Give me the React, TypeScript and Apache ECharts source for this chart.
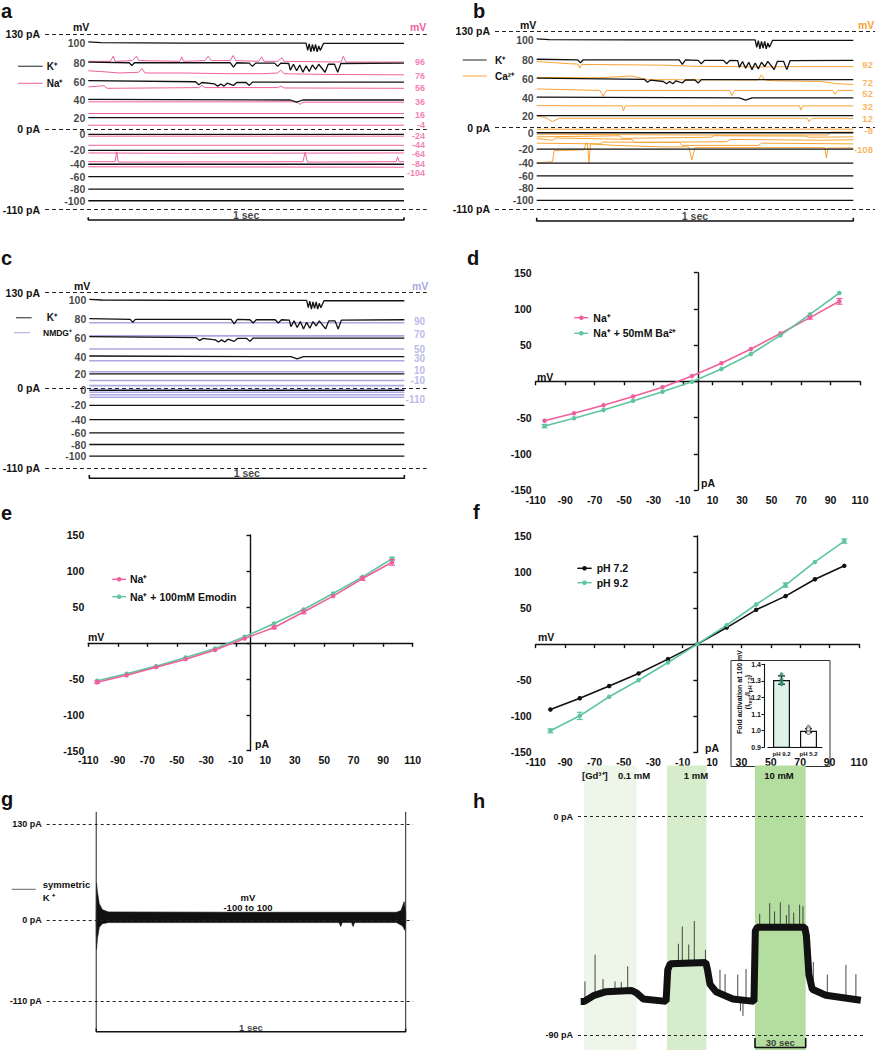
import React, { useEffect, useRef } from "react";
import * as echarts from "echarts";

const FONT = "'Liberation Sans', Arial, Helvetica, sans-serif";
const PINK = "#ef5f9d";
const ORANGE = "#f7a334";
const LAVENDER = "#aba8e2";
const TEAL = "#5fc59d";
const INK = "#111111";

// ---------------- panels a–c : single-channel traces ----------------
const dashLevels = [130, 0, -110];
const scaleBarSec = [0, 1];
const kVoltages = [100, 80, 60, 40, 20, 0, -20, -40, -60, -80, -100];
const kLevelsAB = [118, 91, 65, 40, 16, -7, -29, -48, -65, -82, -98];
const kLevelsC = [119.5, 93.5, 68.5, 42.5, 19, -3.5, -24, -43.5, -61.5, -77.5, -93.5];
// gating events: [time (s), deviation from open level (pA)]
const kGating100 = [[0, 1.5], [0.04, 0.5], [0.3, 0], [0.69, 0], [0.695, -10], [0.7, -1], [0.705, -12], [0.71, -2], [0.715, -11], [0.72, -2], [0.725, -12], [0.73, -4], [0.735, -10], [0.745, -0.5], [1, -0.5]];
const kGating80 = [[0, 1], [0.13, 0], [0.138, -4], [0.146, 0], [0.45, 0], [0.46, -6], [0.47, 0], [0.51, -0.5], [0.52, -5], [0.53, -0.5], [0.59, -0.5], [0.6, -5], [0.61, -0.5], [0.635, -1], [0.64, -10], [0.65, -2], [0.66, -11], [0.67, -3], [0.68, -13], [0.69, -4], [0.7, -12], [0.71, -3], [0.72, -9], [0.73, -2], [0.75, -13], [0.76, -2], [0.78, -2], [0.79, -13], [0.8, -1], [1, -0.5]];
const kGating60 = [[0, 1.5], [0.34, 0], [0.35, -4], [0.36, -1], [0.4, -3], [0.41, -6], [0.42, -3], [0.43, -6], [0.44, -2], [0.46, -5], [0.47, -1], [0.5, -1], [0.51, -5], [0.52, -0.5], [1, -0.5]];
const kGating40 = [[0, 1], [0.64, 0], [0.66, -3], [0.68, 0], [1, 0]];
const kGatingByVoltage: Record<number, number[][]> = { 100: kGating100, 80: kGating80, 60: kGating60, 40: kGating40 };
const flatDeviation = [[0, 0], [1, 0]];

const naVoltages = [96, 76, 56, 36, 16, -4, -24, -44, -64, -84, -104];
const naTraces = [
  [[0, 93], [0.07, 93], [0.079, 100], [0.085, 93], [0.14, 94], [0.153, 100], [0.16, 94], [0.29, 93], [0.296, 99], [0.302, 93], [0.37, 94], [0.38, 100], [0.39, 94], [0.45, 94], [0.459, 101], [0.467, 94], [0.54, 93], [0.549, 99], [0.556, 93], [0.6, 93], [0.613, 98], [0.62, 93], [0.8, 92], [0.808, 100], [0.816, 92], [1, 92]],
  [[0, 80], [0.04, 79], [0.1, 77], [0.16, 78], [0.17, 83], [0.18, 77], [0.3, 77], [0.45, 76], [0.55, 76], [0.6, 77], [0.61, 81], [0.62, 76], [0.75, 75], [1, 74.5]],
  [[0, 58], [0.05, 59.5], [0.06, 56], [0.35, 57], [0.36, 60], [0.37, 57], [0.6, 57], [0.61, 59], [0.62, 56.5], [1, 56]],
  [[0, 37.5], [0.66, 37.5], [0.67, 34], [0.68, 37], [1, 37]],
  [[0, 21.5], [1, 21.5]],
  [[0, 5.5], [1, 5.5]],
  [[0, -9.5], [1, -9.5]],
  [[0, -22], [1, -22]],
  [[0, -32.5], [0.3, -33], [1, -32.5]],
  [[0, -44.5], [0.085, -44.5], [0.09, -31], [0.095, -45], [0.68, -44.5], [0.687, -31.5], [0.694, -45], [0.975, -44.5], [0.98, -38], [0.985, -44.5], [1, -44.5]],
  [[0, -51.5], [1, -52]],
];
const naLabelDy = [0, 1, 0, 0, 1, 0, 0, 0, 1.5, 2, 6];

const caVoltages = [92, 72, 52, 32, 12, -8, -28, -48, -68, -88, -108];
const caTraces = [
  [[0, 89], [0.1, 86], [0.13, 85.5], [0.136, 80], [0.142, 85], [0.4, 84], [0.5, 82.5], [0.65, 82], [0.7, 81.5], [0.8, 82], [1, 82]],
  [[0, 67.5], [0.2, 67], [0.3, 69.5], [0.35, 64.5], [0.7, 64], [0.71, 71], [0.72, 64], [0.75, 63], [0.9, 62], [0.95, 59], [1, 58]],
  [[0, 52], [0.2, 50], [0.21, 42], [0.22, 50], [0.61, 50], [0.616, 43], [0.625, 50], [0.935, 50], [0.942, 45], [0.95, 50], [1, 50]],
  [[0, 29.5], [0.27, 29.2], [0.274, 22.5], [0.28, 29.2], [0.83, 29.2], [0.834, 23.5], [0.84, 29.2], [1, 29.2]],
  [[0, 16], [0.03, 13], [0.05, 8], [0.07, 12.5], [0.855, 12.5], [0.86, 8], [0.87, 12.5], [1, 12.5]],
  [[0, -2.2], [1, -2.2]],
  [[0, -9], [0.5, -10], [0.92, -10], [0.93, -6], [1, -6]],
  [[0, -12.5], [0.1, -12], [0.26, -11], [0.27, -14.5], [0.55, -13], [0.56, -11], [0.85, -11.5], [0.86, -13], [1, -12.5]],
  [[0, -15], [0.05, -17], [0.06, -14], [0.3, -16], [0.31, -20], [0.6, -19], [0.61, -16], [0.9, -17], [1, -16.5]],
  [[0, -21], [0.2, -22], [0.21, -19.5], [0.45, -20], [0.46, -24], [0.7, -24], [0.71, -21], [1, -22]],
  [[0, -47.5], [0.05, -46], [0.055, -31], [0.15, -30], [0.155, -21], [0.16, -21], [0.165, -47], [0.17, -22], [0.25, -24], [0.4, -26], [0.48, -26], [0.49, -43.5], [0.5, -27], [0.91, -27], [0.915, -41], [0.92, -27.5], [1, -27.4]],
];
const caLabelShown = [true, true, true, true, true, true, false, false, false, false, true];
const caLabelDy = [-2, -2, 3, 1, 0.5, 1, 0, 0, 0, 0, 2];

const nmdgVoltages = [90, 70, 50, 30, 10, -10, -30, -50, -70, -90, -110];
const nmdgLevels = [89, 71, 53, 37, 22, 10, 3, -2.5, -6, -9.5, -13];
const nmdgLabelShown = [true, true, true, true, true, true, false, false, false, false, true];
const nmdgLabelDy = [-1, -1, 0, -2, -1, 0, 0, 0, 0, 0, 2];

// ---------------- panels d–f : I–V curves ----------------
const ivVoltagesDE = [-104, -84, -64, -44, -24, -4, 16, 36, 56, 76, 96];
const dNa = [-54.4, -44, -33, -21, -8, 7.3, 25, 44.6, 66, 88, 110.5];
const dBa = [-61.7, -51, -39.6, -27, -14.3, -0.5, 17, 37.7, 63.5, 92.5, 122];
const dNaErr = [[96, 106.5, 114.5], [76, 86, 90]];
const dBaErr = [[-104, -64, -59.5]];
const eNa = [-54.7, -45, -33.8, -22.7, -10, 6, 21.4, 43, 65, 89.5, 112];
const eEmodin = [-52.8, -43, -32.4, -20.4, -7.8, 8.4, 27, 46.4, 68.7, 91.8, 117];
const eNaErr = [[96, 108, 116], [76, 87, 92], [36, 40.5, 45.5], [16, 19.5, 23.5], [-104, -56.5, -53]];
const eEmodinErr = [[96, 115, 119]];
const ivVoltagesF = [-100, -80, -60, -40, -20, 0, 20, 40, 60, 80, 100];
const fPH72 = [-90.6, -75, -58, -40.6, -20.8, 0, 23, 47.6, 66.6, 90, 108.6];
const fPH92 = [-120, -99.4, -73, -50, -25.4, 0, 26.4, 55, 82, 114, 143];
const fPH92Err = [[-100, -123, -117.5], [-80, -104.5, -94.5], [60, 79, 85], [100, 140, 146]];
const insetCats = ["pH 9.2", "pH 5.2"];
const insetMeans = [1.305, 1.0];
const insetSem = [0.025, 0.012];
const insetPoints92 = [1.34, 1.31, 1.29, 1.28];
const insetPoints52 = [1.02, 1.0, 0.99, 1.01];

// ---------------- panel g ----------------
const gDashLevels = [130, 0, -110];
const gUpper = [[0, 5], [0.001, 50], [0.004, 38], [0.01, 22], [0.02, 14], [0.04, 11], [0.5, 10.5], [0.97, 10.5], [0.985, 13], [0.995, 25], [1, 10]];
const gLower = [[0, -1], [0.001, -40], [0.004, -25], [0.01, -10], [0.02, -5], [0.04, -3.5], [0.5, -3.5], [0.785, -3.5], [0.79, -9], [0.795, -3.5], [0.825, -3.5], [0.83, -9], [0.835, -3.5], [0.97, -3.5], [0.99, -8], [0.997, -14], [1, -3]];
const gTransients = [[0, 147, -147], [1, 147, -147]];

// ---------------- panel h ----------------
const hDashLevels = [0, -90];
const hApplications = [
  { label: "0.1 mM", from: 2, to: 33.1, color: "#eef6e9" },
  { label: "1 mM", from: 51.1, to: 74.4, color: "#d6ecca" },
  { label: "10 mM", from: 103.1, to: 133.1, color: "#b4dea0" },
];
const hCurrent = [[0, -76], [2, -76], [8, -73.5], [15, -72], [30, -71.5], [33, -72.5], [37, -75], [50.5, -76], [51.5, -63], [53, -60.5], [74, -60], [75, -63], [76.5, -69], [80, -72], [90, -75], [102.5, -76], [103.3, -47], [104.5, -45.5], [132.5, -45.5], [133.5, -49], [135, -65], [137, -71], [145, -73.5], [165.7, -75.5]];
const hSpikes = [
  [2.5, -75, -67.8], [8.5, -73.5, -56.8], [13.2, -72.5, -66.8], [20.3, -72, -67.8], [24, -72, -68], [27.8, -71.5, -61.6],
  [57.8, -60, -52.3], [60.1, -60, -45.2], [63.9, -60, -52.6], [67.2, -60, -42.9], [73.8, -60, -54.8],
  [82.4, -73, -63], [85.4, -73.5, -64.8], [92.9, -75, -65], [96, -75, -82], [97.8, -75, -62.7], [94.5, -75, -80],
  [105.9, -45.5, -40], [111.8, -45.5, -35.6], [114.7, -45.5, -39], [118.1, -45.5, -35.3], [121.7, -45.5, -40.5], [123.2, -45.5, -36.2], [126, -45.5, -39.5], [129.5, -45.5, -36.2], [131.5, -45.5, -36.9],
  [137.6, -71, -59.8], [145.9, -73.5, -65], [156.9, -74, -61], [162.8, -75, -64.8],
];
const hScaleBarSec = [103.1, 133.1];

// ---------------- helpers ----------------
const lbl = (size = 10.5, color = INK) => ({ fontSize: size, fontWeight: "bold" as const, color, fontFamily: FONT });

function traceLine(idx: number, data: number[][], color: string, width = 1, z = 3) {
  return {
    type: "line", xAxisIndex: idx, yAxisIndex: idx, data, showSymbol: false, symbol: "none",
    silent: true, lineStyle: { color, width }, z, animation: false,
  };
}
function shift(dev: number[][], level: number) {
  return dev.map(([t, d]) => [t, level + d]);
}
function labelSeries(idx: number, items: { x: number; y: number; text: string; dy?: number }[], position: string, color: string, size = 10.5, distance = 4) {
  return {
    type: "scatter", xAxisIndex: idx, yAxisIndex: idx, symbolSize: 0, silent: true, z: 6,
    itemStyle: { color: "transparent" },
    data: items.map((it) => ({ value: [it.x, it.y], label: { formatter: it.text, offset: [0, it.dy || 0] } })),
    label: { show: true, position, distance, lineHeight: size, ...lbl(size, color) },
  };
}
function scaleBar(idx: number, range: number[], lineY: number, tickY: number, textY: number, text: string, size = 10.5) {
  return [
    traceLine(idx, [[range[0], tickY], [range[0], lineY], [range[1], lineY], [range[1], tickY]], INK, 1.6, 5),
    labelSeries(idx, [{ x: (range[0] + range[1]) / 2, y: textY, text }], "inside", INK, size),
  ];
}
function dashSeries(idx: number, levels: number[], size = 10.5, dash = [4, 3]) {
  return {
    type: "line", xAxisIndex: idx, yAxisIndex: idx, data: [], silent: true, symbol: "none",
    markLine: {
      symbol: ["none", "none"], silent: true, animation: false,
      lineStyle: { type: dash, color: "#222", width: 1 },
      label: { position: "start", distance: 5, formatter: (p: any) => `${p.value} pA`, ...lbl(size) },
      data: levels.map((v) => ({ yAxis: v })),
    },
  };
}
function errorBars(idx: number, data: number[][], color: string, cap = 3) {
  return {
    type: "custom", xAxisIndex: idx, yAxisIndex: idx, silent: true, z: 4, data,
    encode: { x: 0, y: [1, 2] },
    renderItem: (_p: any, api: any) => {
      const x = api.value(0);
      const lo = api.coord([x, api.value(1)]);
      const hi = api.coord([x, api.value(2)]);
      const st = { stroke: color, lineWidth: 1.2 };
      return {
        type: "group",
        children: [
          { type: "line", shape: { x1: lo[0], y1: lo[1], x2: hi[0], y2: hi[1] }, style: st },
          { type: "line", shape: { x1: lo[0] - cap, y1: lo[1], x2: lo[0] + cap, y2: lo[1] }, style: st },
          { type: "line", shape: { x1: hi[0] - cap, y1: hi[1], x2: hi[0] + cap, y2: hi[1] }, style: st },
        ],
      };
    },
  };
}
function ivSeries(idx: number, xs: number[], ys: number[], color: string) {
  return {
    type: "line", xAxisIndex: idx, yAxisIndex: idx, silent: true, z: 3,
    data: xs.map((x, i) => [x, ys[i]]), symbol: "circle", symbolSize: 4.5, showSymbol: true,
    lineStyle: { color, width: 1.6 }, itemStyle: { color },
  };
}
function txt(x: number, y: number, text: string, o: any = {}) {
  return {
    type: "text", x, y, silent: true, z: 50, rotation: o.rotation || 0,
    style: {
      text, fill: o.color || INK, fontSize: o.size || 10.5, fontWeight: o.weight || "bold",
      fontFamily: FONT, align: o.align || "left", verticalAlign: o.va || "middle", rich: o.rich,
    },
  };
}
function legendItem(x1: number, x2: number, y: number, color: string, text: string, textX: number, dot: boolean, width = 1.4, size = 10.5) {
  const els: any[] = [{ type: "line", silent: true, z: 50, shape: { x1, y1: y, x2, y2: y }, style: { stroke: color, lineWidth: width } }];
  if (dot) els.push({ type: "circle", silent: true, z: 51, shape: { cx: (x1 + x2) / 2, cy: y, r: 2.3 }, style: { fill: color } });
  els.push(txt(textX, y, text, { size }));
  return els;
}

// ---------------- option ----------------
function buildOption() {
  const grids: any[] = [];
  const xAxes: any[] = [];
  const yAxes: any[] = [];
  const series: any[] = [];
  const hidden = { show: false };

  const traceGrid = (left: number, top: number, width: number, height: number, xmin: number, xmax: number, ymin: number, ymax: number) => {
    const i = grids.length;
    grids.push({ left, top, width, height });
    xAxes.push({ gridIndex: i, type: "value", min: xmin, max: xmax, ...hidden });
    yAxes.push({ gridIndex: i, type: "value", min: ymin, max: ymax, ...hidden });
    return i;
  };
  const ivAxisStyle = {
    axisLine: { onZero: true, lineStyle: { color: INK, width: 1.4 } },
    axisTick: { show: true, length: 4, lineStyle: { color: INK, width: 1.4 } },
    splitLine: { show: false },
  };
  const ivGrid = (left: number, top: number, width: number, height: number) => {
    const i = grids.length;
    grids.push({ left, top, width, height });
    xAxes.push({ gridIndex: i, type: "value", min: -110, max: 110, interval: 20, ...ivAxisStyle, axisLabel: { ...lbl(10.5), margin: 4 } });
    yAxes.push({
      gridIndex: i, type: "value", min: -150, max: 150, interval: 50, ...ivAxisStyle,
      axisLabel: { ...lbl(10.5), margin: 4, formatter: (v: number) => (v === 0 ? "" : String(v)) },
    });
    return i;
  };

  // right-hand voltage labels are right-aligned at these time positions (layout)
  const rightEdgeA = 1.0665;
  const rightEdgeB = 1.062;
  const rightEdgeC = 1.0657;

  // ----- a -----
  const A = traceGrid(45, 34.3, 381.7, 186.9, -0.137, 1.072, -126, 130);
  series.push(dashSeries(A, dashLevels));
  naVoltages.forEach((v, i) => series.push(traceLine(A, naTraces[i], PINK, 1, 3)));
  kVoltages.forEach((v, i) => series.push(traceLine(A, shift(kGatingByVoltage[v] ?? flatDeviation, kLevelsAB[i]), INK, 1.3, 4)));
  series.push(labelSeries(A, kVoltages.map((v, i) => ({ x: 0, y: kLevelsAB[i], text: String(v) })), "left", INK, 10.5, 3));
  series.push(labelSeries(A, naVoltages.map((v, i) => ({ x: rightEdgeA, y: naTraces[i][naTraces[i].length - 1][1], text: String(v), dy: naLabelDy[i] })), "left", PINK, 9, 0));
  series.push(...scaleBar(A, scaleBarSec, -124.3, -120.6, -117.5, "1 sec"));

  // ----- b -----
  const B = traceGrid(495, 31, 380, 190.9, -0.1317, 1.0685, -127, 130);
  series.push(dashSeries(B, dashLevels));
  caVoltages.forEach((v, i) => series.push(traceLine(B, caTraces[i], ORANGE, 1, 3)));
  kVoltages.forEach((v, i) => series.push(traceLine(B, shift(kGatingByVoltage[v] ?? flatDeviation, kLevelsAB[i]), INK, 1.3, 4)));
  series.push(labelSeries(B, kVoltages.map((v, i) => ({ x: 0, y: kLevelsAB[i], text: String(v) })), "left", INK, 10.5, 3));
  series.push(labelSeries(B, caVoltages.map((v, i) => ({ v, i })).filter(({ i }) => caLabelShown[i]).map(({ v, i }) => ({ x: rightEdgeB, y: caTraces[i][caTraces[i].length - 1][1], text: String(v), dy: caLabelDy[i] })), "left", ORANGE, 9.5, 0));
  series.push(...scaleBar(B, scaleBarSec, -125.8, -121.3, -119, "1 sec"));

  // ----- c -----
  const C = traceGrid(45, 292.7, 381.7, 187.3, -0.1406, 1.071, -126, 130);
  series.push(dashSeries(C, dashLevels));
  nmdgVoltages.forEach((v, i) => series.push(traceLine(C, flatDeviation.map(([t]) => [t, nmdgLevels[i]]), LAVENDER, 1.6, 3)));
  kVoltages.forEach((v, i) => series.push(traceLine(C, shift(kGatingByVoltage[v] ?? flatDeviation, kLevelsC[i]), INK, 1.3, 4)));
  series.push(labelSeries(C, kVoltages.map((v, i) => ({ x: 0, y: kLevelsC[i], text: String(v) })), "left", INK, 10.5, 3));
  series.push(labelSeries(C, nmdgVoltages.map((v, i) => ({ v, i })).filter(({ i }) => nmdgLabelShown[i]).map(({ v, i }) => ({ x: rightEdgeC, y: nmdgLevels[i], text: String(v), dy: nmdgLabelDy[i] })), "left", LAVENDER, 10, 0));
  series.push(...scaleBar(C, scaleBarSec, -123.6, -119.2, -117, "1 sec"));

  // ----- d -----
  const D = ivGrid(535.7, 272.7, 324.3, 217.3);
  series.push(ivSeries(D, ivVoltagesDE, dNa, PINK), ivSeries(D, ivVoltagesDE, dBa, TEAL));
  series.push(errorBars(D, dNaErr, PINK), errorBars(D, dBaErr, TEAL));

  // ----- e -----
  const E = ivGrid(88.3, 535, 324.4, 215.7);
  series.push(ivSeries(E, ivVoltagesDE, eEmodin, TEAL), ivSeries(E, ivVoltagesDE, eNa, PINK));
  series.push(errorBars(E, eEmodinErr, TEAL), errorBars(E, eNaErr, PINK));

  // ----- f -----
  const F = ivGrid(535.7, 536, 323.3, 216.3);
  series.push(ivSeries(F, ivVoltagesF, fPH72, INK), ivSeries(F, ivVoltagesF, fPH92, TEAL));
  series.push(errorBars(F, fPH92Err, TEAL));

  // ----- f inset -----
  const I = grids.length;
  grids.push({ left: 768, top: 664.3, width: 54, height: 83 });
  xAxes.push({
    gridIndex: I, type: "category", data: insetCats,
    axisLine: { lineStyle: { color: INK, width: 1.1 } }, axisTick: { show: false },
    axisLabel: { ...lbl(6), margin: 4, interval: 0 },
  });
  yAxes.push({
    gridIndex: I, type: "value", min: 0.9, max: 1.4, interval: 0.1, offset: 4,
    axisLine: { show: true, lineStyle: { color: INK, width: 1.1 } },
    axisTick: { show: true, length: 2.5, lineStyle: { color: INK } },
    axisLabel: { ...lbl(7), margin: 3, formatter: (v: number) => v.toFixed(1) },
    splitLine: { show: false },
  });
  series.push({
    type: "bar", xAxisIndex: I, yAxisIndex: I, barWidth: 17, silent: true, z: 3,
    data: insetMeans.map((m, i) => ({ value: m, itemStyle: { color: i === 0 ? "#dff2e8" : "#ffffff", borderColor: INK, borderWidth: 1.2 } })),
  });
  series.push(errorBars(I, insetMeans.map((m, i) => [i, m - insetSem[i], m + insetSem[i]]), INK, 3.5));
  series.push({
    type: "scatter", xAxisIndex: I, yAxisIndex: I, silent: true, z: 5, symbolSize: 4,
    data: insetPoints92.map((v) => [0, v]), itemStyle: { color: "#2f8f6c" },
  });
  series.push({
    type: "scatter", xAxisIndex: I, yAxisIndex: I, silent: true, z: 5, symbolSize: 4,
    data: insetPoints52.map((v) => [1, v]), itemStyle: { color: "#ffffff", borderColor: "#333", borderWidth: 1 },
  });

  // ----- g -----
  const G = traceGrid(46.7, 809.6, 366.3, 223, -0.16, 1.0236, -153, 150);
  series.push(dashSeries(G, gDashLevels, 9, [3, 3]));
  series.push({
    type: "custom", xAxisIndex: G, yAxisIndex: G, silent: true, z: 3, data: [[0, 0]],
    renderItem: (_p: any, api: any) => {
      const pts = [...gUpper.map((p) => api.coord(p)), ...gLower.slice().reverse().map((p) => api.coord(p))];
      return { type: "polygon", shape: { points: pts }, style: { fill: INK, stroke: INK, lineWidth: 0.6 } };
    },
  });
  gTransients.forEach(([t, hi, lo]) => series.push(traceLine(G, [[t, hi], [t, lo]], "#222", 1, 4)));
  series.push(...scaleBar(G, scaleBarSec, -151.8, -147, -145.7, "1 sec", 9.5));

  // ----- h -----
  const H = traceGrid(578, 765.6, 285, 284.4, -1.6, 167, -96, 21);
  series.push({
    ...dashSeries(H, hDashLevels, 9, [3, 3]),
    markArea: {
      silent: true,
      data: hApplications.map((a) => [{ xAxis: a.from, itemStyle: { color: a.color } }, { xAxis: a.to }]),
    },
  });
  series.push(traceLine(H, hCurrent, INK, 7, 4));
  series.push({
    type: "custom", xAxisIndex: H, yAxisIndex: H, silent: true, z: 3, data: hSpikes,
    renderItem: (_p: any, api: any) => {
      const a = api.coord([api.value(0), api.value(1)]);
      const b = api.coord([api.value(0), api.value(2)]);
      return { type: "line", shape: { x1: a[0], y1: a[1], x2: b[0], y2: b[1] }, style: { stroke: "#333", lineWidth: 0.9 } };
    },
  });
  series.push(...scaleBar(H, hScaleBarSec, -95, -91.1, -92.8, "30 sec", 9.5));

  // ----- graphic annotations -----
  const panelLetter = (x: number, y: number, s: string) => txt(x, y, s, { size: 20, va: "middle" });
  const elements: any[] = [
    panelLetter(1, 11, "a"), panelLetter(473, 11, "b"), panelLetter(1, 258, "c"), panelLetter(467, 258, "d"),
    panelLetter(1, 513, "e"), panelLetter(473, 512, "f"), panelLetter(1, 799, "g"), panelLetter(473, 801, "h"),
    // a
    txt(73, 27, "mV"), txt(410, 27, "mV", { color: PINK }),
    ...legendItem(18, 42.7, 66.3, "#555", "K⁺", 46.7, false, 1.3, 10),
    ...legendItem(18, 42.7, 83.3, PINK, "Na⁺", 46.7, false, 1, 10),
    // b
    txt(520, 25, "mV"), txt(858, 25, "mV", { color: ORANGE }),
    ...legendItem(462.7, 486.7, 60, "#555", "K⁺", 495, false, 1.3, 10),
    ...legendItem(462.7, 486.7, 76, ORANGE, "Ca²⁺", 495, false, 1, 10),
    // c
    txt(74, 285.7, "mV"), txt(412, 285.7, "mV", { color: LAVENDER }),
    ...legendItem(16, 31.7, 317.7, "#555", "K⁺", 46.7, false, 1.3, 10),
    ...legendItem(14, 30, 332.7, LAVENDER, "NMDG⁺", 43, false, 1, 8.5),
    // d
    txt(537, 377, "mV"), txt(701, 483.3, "pA"),
    ...legendItem(574.3, 588.3, 317.7, PINK, "Na⁺", 593.3, true),
    ...legendItem(574.3, 588.3, 333.3, TEAL, "Na⁺ + 50mM Ba²⁺", 593.3, true),
    // e
    txt(88, 637.3, "mV"), txt(255, 744, "pA"),
    ...legendItem(112.3, 126, 579.3, PINK, "Na⁺", 130, true),
    ...legendItem(112.3, 126, 596.7, TEAL, "Na⁺ + 100mM Emodin", 130, true),
    // f
    txt(538, 637.3, "mV"), txt(705, 747.7, "pA"),
    ...legendItem(577.3, 591.7, 568.3, INK, "pH 7.2", 596.7, true),
    ...legendItem(577.3, 591.7, 582.7, TEAL, "pH 9.2", 596.7, true),
    { type: "rect", silent: true, z: 0, shape: { x: 731, y: 660.5, width: 99, height: 106 }, style: { fill: "#ffffff", stroke: "#333", lineWidth: 1 } },
    txt(739.3, 692, "Fold activation at 100 mV", { size: 7, align: "center", rotation: Math.PI / 2 }),
    txt(747.5, 692, "(I{s|test}/I{s|pH 7.2})", { size: 7, align: "center", rotation: Math.PI / 2, rich: { s: { fontSize: 5, fontWeight: "bold", fontFamily: FONT, fill: INK, padding: [4, 0, 0, 0] } } }),
    // g
    { type: "line", silent: true, z: 50, shape: { x1: 11.7, y1: 889.3, x2: 35.7, y2: 889.3 }, style: { stroke: "#666", lineWidth: 1 } },
    txt(42.7, 884, "symmetric", { size: 9.5 }), txt(42.7, 897, "K ⁺", { size: 9.5 }),
    txt(248, 897.3, "mV", { size: 9.5, align: "center" }), txt(248, 907.3, "-100 to 100", { size: 9.5, align: "center" }),
    // h
    txt(582, 775, "[Gd³⁺]", { size: 9.5 }),
    txt(634, 775, hApplications[0].label, { size: 9.5, align: "center" }),
    txt(696, 775, hApplications[1].label, { size: 9.5, align: "center" }),
    txt(779, 775, hApplications[2].label, { size: 9.5, align: "center" }),
  ];

  return {
    animation: false,
    backgroundColor: "#ffffff",
    textStyle: { fontFamily: FONT },
    grid: grids,
    xAxis: xAxes,
    yAxis: yAxes,
    series,
    graphic: { elements },
  };
}

export default function App() {
  const ref = useRef<HTMLDivElement>(null);
  useEffect(() => {
    if (!ref.current) return;
    const chart = echarts.init(ref.current, undefined, { renderer: "svg" });
    chart.setOption(buildOption() as any);
    return () => chart.dispose();
  }, []);
  return <div ref={ref} style={{ position: "absolute", left: 0, top: 0, width: 875, height: 1050, background: "#fff" }} />;
}
